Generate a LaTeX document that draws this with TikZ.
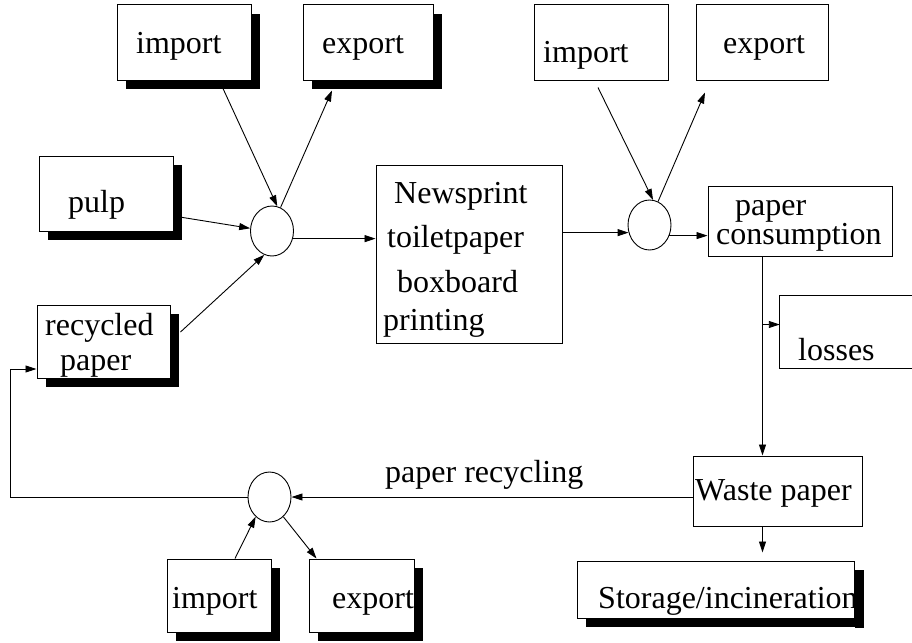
\documentclass[tikz,border=0pt]{standalone}
\usepackage{fontspec}
\setmainfont{Liberation Serif}
\usetikzlibrary{shadows,arrows.meta,calc,shapes.geometric}
\begin{document}
\begin{tikzpicture}[x=1pt,y=-1pt,
  txt/.style={anchor=base west, inner sep=0pt, font=\fontsize{32}{36}\selectfont},
  bx/.style={draw, line width=1pt, fill=white, inner sep=0pt},
  sbx/.style={bx, drop shadow={shadow xshift=9pt, shadow yshift=-9pt, fill=black, opacity=1}},
  hub/.style={draw, ellipse, line width=0.9pt, minimum width=43pt, minimum height=50pt, inner sep=0pt},
  arr/.style={line width=0.9pt, -{Triangle[length=11pt,width=7pt]}},
  ln/.style={line width=0.9pt}]
\useasboundingbox (0,0) rectangle (912,642);

% boxes
\node[sbx, minimum width=134pt, minimum height=75pt] (imp1) at (184,42.5) {};
\node[sbx, minimum width=130pt, minimum height=75pt] (exp1) at (368,42.5) {};
\node[sbx, minimum width=134pt, minimum height=75pt] (pulp) at (106,193.5) {};
\node[sbx, minimum width=133pt, minimum height=73pt] (rec) at (103.5,341.5) {};
\node[bx, minimum width=186pt, minimum height=178pt] (news) at (469,254) {};
\node[bx, minimum width=134pt, minimum height=75pt] (imp2) at (601,42.5) {};
\node[bx, minimum width=132pt, minimum height=75pt] (exp2) at (762,42.5) {};
\node[bx, minimum width=184pt, minimum height=70pt] (cons) at (800,221) {};
\node[inner sep=0pt, minimum width=132pt, minimum height=72pt] (loss) at (846,332) {};
\draw[line width=1pt] (loss.north east) -- (loss.north west) -- (loss.south west) -- (loss.south east);
\node[bx, minimum width=169pt, minimum height=70pt] (waste) at (777.5,491) {};
\node[sbx, minimum width=277pt, minimum height=57pt] (stor) at (715.5,589.5) {};
\node[sbx, minimum width=104pt, minimum height=73pt] (imp3) at (219,595.5) {};
\node[sbx, minimum width=105pt, minimum height=73pt] (exp3) at (361.5,595.5) {};

% hubs
\node[hub] (c1) at (272,231) {};
\node[hub] (c2) at (649.5,225) {};
\node[hub] (c3) at (269.5,497) {};

% texts
\node[txt] (t1) at (136,53) {import};
\node[txt] (t2) at (322,53) {export};
\node[txt] (t3) at (68,212) {pulp};
\node[txt] (t4a) at (45,335) {recycled};
\node[txt] (t4b) at (60,370) {paper};
\node[txt] (t5a) at (394,203) {Newsprint};
\node[txt] (t5b) at (387,247) {toiletpaper};
\node[txt] (t5c) at (397,292) {boxboard};
\node[txt] (t5d) at (383,330) {printing};
\node[txt] (t6) at (543,63) {import};
\node[txt] (t7) at (723,53) {export};
\node[txt] (t8a) at (735,215) {paper};
\node[txt] (t8b) at (716,244) {consumption};
\node[txt] (t9) at (798,360) {losses};
\node[txt] (t10) at (695,500) {Waste paper};
\node[txt] (t11) at (598,608) {Storage/incineration};
\node[txt] (t12) at (172,608) {import};
\node[txt] (t13) at (332,608) {export};
\node[txt] (t14) at (385,482) {paper recycling};

% shadow edge over the storage text
\fill[black] ($(stor.north east)+(0,9)$) rectangle ($(stor.south east)+(9,9)$);

% connectors
\draw[arr] ($(imp1.south)+(39,8)$) -- (c1.78);
\draw[arr] (c1.70) -- ($(exp1.south)+(-36,10)$);
\draw[arr] ($(pulp.east)+(0,22.5)$) -- (c1.173);
\draw[arr] (c1.-20) -- (c1.-20 -| news.west);
\draw[arr] ($(rec.east)+(10,-9.5)$) -- (c1.-108);
\draw[arr] (c2.200 -| news.east) -- (c2.200);
\draw[arr] (c2.-28) -- (c2.-28 -| cons.west);
\draw[arr] ($(imp2.south)+(-3,7)$) -- (c2.82);
\draw[arr] (c2.70) -- ($(exp2.south)+(-57,12)$);
\coordinate (cs) at ($(cons.south west)+(55,0)$);
\draw[arr] (cs) -- (cs |- waste.north);
\coordinate (j) at ($(cs)+(0,68)$);
\draw[arr] (j) -- (j -| loss.west);
\draw[arr, shorten >=8pt] (cs |- waste.south) -- (cs |- stor.north);
\draw[arr] (c3.east -| waste.west) -- (c3.east);
\coordinate (lc) at ($(rec.west)+(-26,27.5)$);
\draw[arr] (c3.west) -| (lc) -- (lc -| rec.west);
\draw[arr] ($(imp3.north)+(16,0)$) -- (c3.-125);
\draw[arr] (c3.-55) -- ($(exp3.north west)+(8,0)$);
\end{tikzpicture}
\end{document}
